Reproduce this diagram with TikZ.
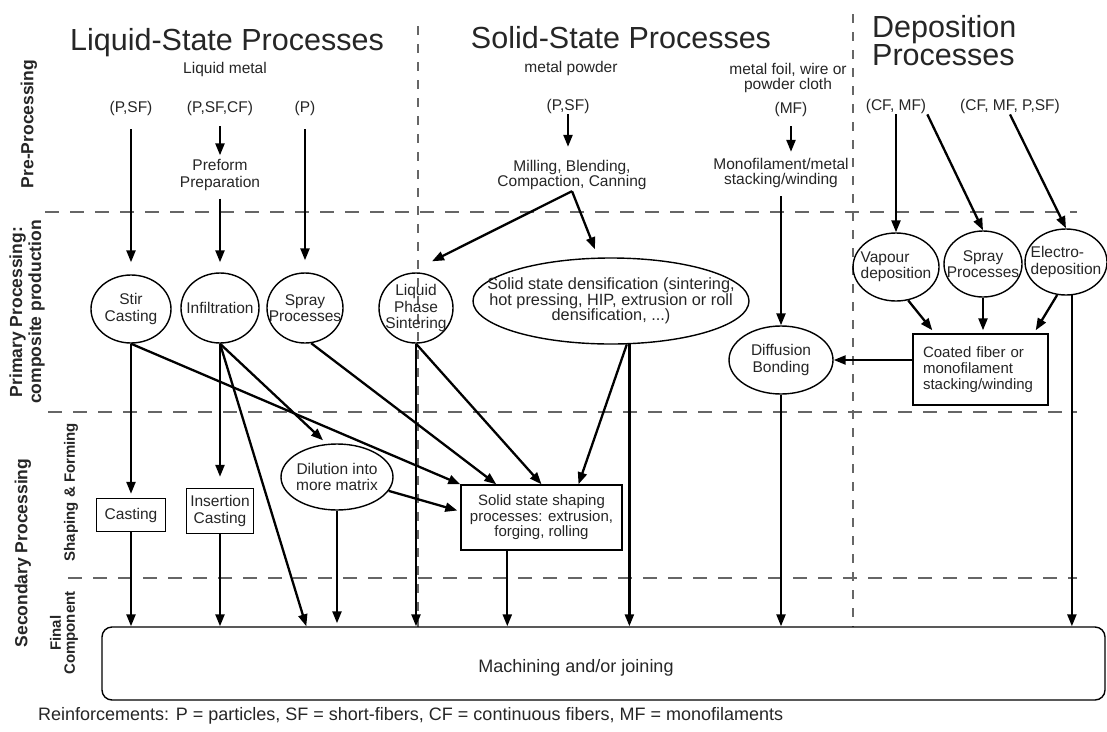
\documentclass[tikz,border=0pt]{standalone}
\usepackage{fontspec}
\setmainfont{Liberation Sans}
\usetikzlibrary{shapes.geometric,arrows.meta,calc}
\begin{document}
\begin{tikzpicture}[x=1pt,y=-1pt,
  txt/.style={font=\fontsize{15.5}{16.5}\selectfont, text=black!85, align=center, inner sep=1pt},
  big/.style={font=\fontsize{30.5}{28}\selectfont, text=black!85, inner sep=0pt},
  sidelab/.style={font=\fontsize{17.5}{19}\selectfont\bfseries, text=black!85, rotate=90, align=center, inner sep=0pt},
  sidesm/.style={font=\fontsize{15}{14}\selectfont\bfseries, text=black!85, rotate=90, align=center, inner sep=0pt},
  ell/.style={txt, ellipse, draw=black, line width=1.4pt, inner xsep=-40pt, inner ysep=-15pt},
  bx/.style={txt, rectangle, draw=black, line width=1.4pt, inner sep=0pt},
  arr/.style={line width=2.3pt, draw=black, -{Triangle[length=12pt,width=9pt]}},
  sepline/.style={draw=black!60, line width=1.6pt, dash pattern=on 14pt off 11pt},
  sepv/.style={draw=black!60, line width=1.6pt, dash pattern=on 9pt off 9pt},
]
\fill[white] (0,0) rectangle (1107,731);
\useasboundingbox (0,0) rectangle (1107,731);

% separators
\draw[sepline] (45,212) -- (1077,212);
\draw[sepline] (48,412) -- (1077,412);
\draw[sepline] (68,578) -- (1077,578);
\draw[sepv] (418,26) -- (418,627);
\draw[sepv] (853,14) -- (853,627);

% side labels
\node[sidelab] (lpre) at (29,124) {Pre-Processing};
\node[sidelab] (lprim) at (27,312) {Primary Processing:\\composite production};
\node[sidelab] (lsec) at (23,553) {Secondary Processing};
\node[sidesm] (lshape) at (71,492) {Shaping \& Forming};
\node[sidesm] (lfin) at (64,633) {Final\\Component};

% titles
\node[big, anchor=base] (tliq) at (227,50) {Liquid-State Processes};
\node[big, anchor=base] (tsol) at (621,48) {Solid-State Processes};
\node[big, anchor=north west, align=left] (tdep) at (872,15) {Deposition\\Processes};

% inputs
\node[txt, anchor=base] (liqm) at (225,73) {Liquid metal};
\node[txt, anchor=base] (psfa) at (131,112) {(P,SF)};
\node[txt, anchor=base] (psfcf) at (220,112) {(P,SF,CF)};
\node[txt, anchor=base] (pp) at (305,112) {(P)};
\node[txt] (preform) at (220,175) {Preform\\Preparation};
\node[txt, anchor=base] (metp) at (571,72) {metal powder};
\node[txt, anchor=base] (psfb) at (568,110) {(P,SF)};
\node[txt, font=\fontsize{15.5}{15.5}\selectfont] (mill) at (572,175) {Milling, Blending,\\Compaction, Canning};
\node[txt, font=\fontsize{15.5}{15.5}\selectfont] (foil) at (788,78) {metal foil, wire or\\powder cloth};
\node[txt, anchor=base] (mf) at (791,113) {(MF)};
\node[txt, font=\fontsize{15.5}{15.5}\selectfont] (mono) at (781,173) {Monofilament/metal\\stacking/winding};
\node[txt, anchor=base] (cfmf) at (896,110) {(CF, MF)};
\node[txt, anchor=base] (cfall) at (1010,110) {(CF, MF, P,SF)};

% primary processing
\node[ell, minimum width=80pt, minimum height=68pt] (stir) at (131,309) {Stir\\Casting};
\node[ell, minimum width=78pt, minimum height=70pt] (infil) at (220,308) {Infiltration};
\node[ell, minimum width=76pt, minimum height=70pt] (spray) at (305,308) {Spray\\Processes};
\node[ell, minimum width=74pt, minimum height=70pt] (lps) at (416,308) {Liquid\\Phase\\Sintering};
\node[ell, minimum width=276pt, minimum height=86pt, font=\fontsize{16.3}{15.5}\selectfont] (ssd) at (611,301) {Solid state densification (sintering,\\hot pressing, HIP, extrusion or roll\\densification, ...)};
\node[ell, minimum width=104pt, minimum height=68pt] (diff) at (781,360) {Diffusion\\Bonding};
\node[ell, minimum width=86pt, minimum height=68pt, align=left] (vap) at (896,267) {Vapour\\deposition};
\node[ell, minimum width=78pt, minimum height=66pt] (spray2) at (983,264) {Spray\\Processes};
\node[ell, minimum width=82pt, minimum height=66pt, align=left] (elec) at (1066,262) {Electro-\\deposition};
\node[bx, align=left, text width=115pt, inner xsep=10pt, minimum height=71pt, font=\fontsize{15}{16}\selectfont] (coated) at (980.5,369.5) {Coated fiber or\\monofilament\\stacking/winding};

% secondary processing
\node[bx, minimum width=69pt, minimum height=33pt] (cast) at (131,515) {Casting};
\node[bx, minimum width=67pt, minimum height=45pt] (insert) at (220,511) {Insertion\\Casting};
\node[ell, minimum width=112pt, minimum height=66pt] (dil) at (337,477) {Dilution into\\more matrix};
\node[bx, minimum width=161pt, minimum height=65pt, font=\fontsize{15}{15.5}\selectfont] (shape) at (541.5,517.5) {Solid state shaping\\processes: extrusion,\\forging, rolling};

% final component
\node[draw=black, line width=1.4pt, rounded corners=10pt, minimum width=1003pt, minimum height=73pt, inner sep=0pt, font=\fontsize{18}{20}\selectfont, text=black!85, text height=22pt, text depth=4pt] (final) at (603.5,663.5) {\hspace*{-55pt}Machining and/or joining};

\node[font=\fontsize{18}{20}\selectfont, text=black!85, anchor=base west, inner sep=0pt] (legend) at (38,720) {Reinforcements: P = particles, SF = short-fibers, CF = continuous fibers, MF = monofilaments};

\coordinate (shout) at ($(shape.south west)+(47,0)$);

% connectors: pre-processing
\draw[arr, shorten <=13pt, shorten >=12pt] (psfa.south) -- (psfa.south |- stir.north);
\draw[arr, shorten <=10pt, shorten >=3pt] (psfcf.south) -- (preform.north);
\draw[arr, shorten <=7pt, shorten >=10pt] (preform.south) -- (infil.north);
\draw[arr, shorten <=13pt, shorten >=12pt] (pp.south) -- (spray.north);
\draw[arr, shorten >=12pt] (psfb.south) -- (psfb.south |- mill.north);
\draw[arr] (mill.south) -- ($(lps.north)+(16,-11)$);
\draw[arr] (mill.south) -- ($(ssd.north)+(-16,-8)$);
\draw[arr, shorten <=9pt, shorten >=5pt] (mf.south) -- (mf.south |- mono.north);
\draw[arr, shorten <=7pt] (mono.south) -- (diff.north);
\draw[arr] (cfmf.south) -- (vap.north);
\draw[arr] (cfmf.south east) -- (spray2.north);
\draw[arr] (cfall.south) -- (elec.north);

% deposition
\draw[arr] (vap.-70) -- ($(coated.north west)+(20,-3)$);
\draw[arr, shorten >=3pt] (spray2.south) -- (spray2.south |- coated.north);
\draw[arr] (elec.-105) -- ($(coated.north east)+(-13,-3)$);
\draw[arr] (coated.west |- diff.east) -- (diff.east);
\draw[arr] (elec.-80) -- (elec.-80 |- final.north);
\draw[arr] (diff.south) -- (diff.south |- final.north);

% solid state
\draw[arr] (ssd.-67) -- (ssd.-67 |- final.north);
\draw[arr] (ssd.-70) -- ($(shape.north)+(37,0)$);
\draw[arr] (lps.south) -- (lps.south |- final.north);
\draw[arr] (lps.south) -- (shape.north);

% liquid state
\draw[arr] (spray.-80) -- ($(shape.north west)+(36,0)$);
\draw[arr] (stir.south) -- (shape.north west);
\draw[arr] (dil.-15) -- ($(shape.west)+(-3,-7)$);
\draw[arr, shorten >=3pt] (dil.south) -- (dil.south |- final.north);
\draw[arr] (infil.south) -- ($(dil.north)+(-14,-3)$);
\draw[arr] (infil.south) -- ($(final.north west)+(205,0)$);
\draw[arr, shorten >=11pt] (infil.south) -- (insert.north);
\draw[arr, shorten >=4pt] (stir.south) -- (cast.north);
\draw[arr] (cast.south) -- (cast.south |- final.north);
\draw[arr] (insert.south) -- (insert.south |- final.north);
\draw[arr] (shout) -- (shout |- final.north);
\end{tikzpicture}
\end{document}
